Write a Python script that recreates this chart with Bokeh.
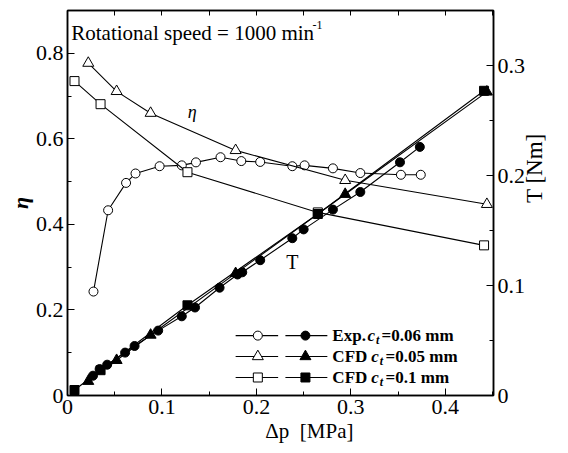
import math
from bokeh.plotting import figure
from bokeh.models import Range1d, LinearAxis, FixedTicker, Label
from bokeh.embed import file_html
from bokeh.resources import INLINE

# ---------------- data ----------------
# Experiment, c_t = 0.06 mm : efficiency
dp_exp_eta = [0.0275, 0.043, 0.062, 0.072, 0.0975, 0.121, 0.136, 0.162, 0.184,
              0.204, 0.238, 0.251, 0.281, 0.310, 0.353, 0.374]
eta_exp = [0.243, 0.433, 0.497, 0.519, 0.536, 0.538, 0.545, 0.557, 0.548,
           0.546, 0.536, 0.538, 0.531, 0.520, 0.516, 0.516]
# Experiment, c_t = 0.06 mm : torque
dp_exp_T = [0.027, 0.034, 0.042, 0.061, 0.071, 0.096, 0.121, 0.135, 0.161,
            0.180, 0.185, 0.204, 0.238, 0.250, 0.281, 0.310, 0.352, 0.373]
T_exp = [0.018, 0.024, 0.028, 0.039, 0.045, 0.059, 0.072, 0.080, 0.098,
         0.110, 0.112, 0.123, 0.143, 0.151, 0.169, 0.185, 0.212, 0.226]
# CFD, c_t = 0.05 mm
dp_cfd05 = [0.022, 0.052, 0.088, 0.178, 0.294, 0.444]
eta_cfd05 = [0.777, 0.711, 0.660, 0.573, 0.503, 0.447]
T_cfd05 = [0.013, 0.032, 0.055, 0.111, 0.183, 0.276]
# CFD, c_t = 0.1 mm
dp_cfd10 = [0.0074, 0.035, 0.127, 0.265, 0.441]
eta_cfd10 = [0.735, 0.681, 0.522, 0.428, 0.351]
T_cfd10 = [0.005, 0.023, 0.082, 0.165, 0.277]

x_major = [0, 0.1, 0.2, 0.3, 0.4]
x_minor = [0.05, 0.15, 0.25, 0.35, 0.45]
eta_major = [0, 0.2, 0.4, 0.6, 0.8]
eta_minor = [0.1, 0.3, 0.5, 0.7]
T_major = [0, 0.1, 0.2, 0.3]
T_minor = [0.05, 0.15, 0.25]

FONT = "Liberation Serif"
NB = "\u00a0"

p = figure(width=568, height=453, output_backend="svg", toolbar_location=None,
           x_range=Range1d(0, 0.451), y_range=Range1d(0, 0.9),
           min_border_left=67, min_border_right=75, min_border_top=10,
           min_border_bottom=58)
p.extra_y_ranges = {"T": Range1d(0, 0.35)}
p.xgrid.visible = False
p.ygrid.visible = False
p.outline_line_color = "black"
p.outline_line_width = 1.5
p.background_fill_color = "white"
p.border_fill_color = "white"


def style_axis(ax):
    ax.axis_line_color = "black"
    ax.axis_line_width = 1.5
    ax.major_tick_in = 7
    ax.major_tick_out = 0
    ax.minor_tick_in = 4
    ax.minor_tick_out = 0
    ax.major_tick_line_color = "black"
    ax.minor_tick_line_color = "black"
    ax.major_label_text_font = FONT
    ax.major_label_text_font_size = "22px"
    ax.major_label_text_color = "black"
    ax.major_label_standoff = 4
    ax.major_label_overrides = {0: "0"}
    ax.axis_label_text_font = FONT
    ax.axis_label_text_color = "black"


p.xaxis.ticker = FixedTicker(ticks=x_major, minor_ticks=x_minor)
style_axis(p.xaxis[0])
p.xaxis.axis_label = NB * 11 + "Δp" + NB * 2 + "[MPa]"
p.xaxis.axis_label_text_font_size = "21px"
p.xaxis.axis_label_text_font_style = "normal"
p.xaxis.axis_label_standoff = 2

p.yaxis.ticker = FixedTicker(ticks=eta_major, minor_ticks=eta_minor)
style_axis(p.yaxis[0])
p.yaxis.axis_label = "η"
p.yaxis.axis_label_text_font_size = "22px"
p.yaxis.axis_label_text_font_style = "bold italic"
p.yaxis.axis_label_standoff = 0

right = LinearAxis(y_range_name="T", ticker=FixedTicker(ticks=T_major, minor_ticks=T_minor))
style_axis(right)
right.axis_label = "T [Nm]"
right.axis_label_text_font_size = "23px"
right.axis_label_text_font_style = "normal"
right.axis_label_standoff = 6
right.axis_label_orientation = math.pi / 2
p.add_layout(right, "right")

# top axis: ticks only (no major ticks -> no labels)
top = LinearAxis(ticker=FixedTicker(ticks=[], minor_ticks=sorted(x_major + x_minor)))
style_axis(top)
top.minor_tick_in = 5
p.add_layout(top, "above")

LW = 1.1
MS = 9
# efficiency curves (open markers)
p.line(dp_exp_eta, eta_exp, line_color="black", line_width=LW)
p.scatter(dp_exp_eta, eta_exp, marker="circle", size=MS, fill_color="white", line_color="black")
p.line(dp_cfd05, eta_cfd05, line_color="black", line_width=LW)
p.scatter(dp_cfd05, eta_cfd05, marker="triangle", size=MS + 2, fill_color="white", line_color="black")
p.line(dp_cfd10, eta_cfd10, line_color="black", line_width=LW)
p.scatter(dp_cfd10, eta_cfd10, marker="square", size=MS, fill_color="white", line_color="black")

# torque curves (filled markers)
p.line(dp_exp_T, T_exp, line_color="black", line_width=LW, y_range_name="T")
p.scatter(dp_exp_T, T_exp, marker="circle", size=MS, fill_color="black", line_color="black", y_range_name="T")
p.line(dp_cfd05, T_cfd05, line_color="black", line_width=LW, y_range_name="T")
p.scatter(dp_cfd05, T_cfd05, marker="triangle", size=MS + 2, fill_color="black", line_color="black", y_range_name="T")
p.line(dp_cfd10, T_cfd10, line_color="black", line_width=LW, y_range_name="T")
p.scatter(dp_cfd10, T_cfd10, marker="square", size=MS, fill_color="black", line_color="black", y_range_name="T")


def lab(x, y, text, size, style="normal", align="left", baseline="alphabetic"):
    p.add_layout(Label(x=x, y=y, text=text, text_font=FONT, text_font_size=size,
                       text_font_style=style, text_align=align, text_baseline=baseline,
                       text_color="black"))


# annotations
lab(0.004, 0.847, "Rotational speed = 1000 min", "21px")
lab(0.2595, 0.866, "-1", "12px")
lab(0.132, 0.662, "η", "18px", style="italic", align="center", baseline="middle")
lab(0.238, 0.311, "T", "20px", align="center", baseline="middle")

# legend
leg_rows = [0.140, 0.0912, 0.0421]
leg_markers = ["circle", "triangle", "square"]
leg_names = ["Exp.", "CFD", "CFD"]
leg_vals = ["=0.06 mm", "=0.05 mm", "=0.1 mm"]
open_x = (0.178, 0.2015, 0.223)
fill_x = (0.2307, 0.2519, 0.2751)
for yv, mk, nm, vl in zip(leg_rows, leg_markers, leg_names, leg_vals):
    sz = MS + 2 if mk == "triangle" else MS
    p.line([open_x[0], open_x[2]], [yv, yv], line_color="black", line_width=LW)
    p.scatter([open_x[1]], [yv], marker=mk, size=sz, fill_color="white", line_color="black")
    p.line([fill_x[0], fill_x[2]], [yv, yv], line_color="black", line_width=LW)
    p.scatter([fill_x[1]], [yv], marker=mk, size=sz, fill_color="black", line_color="black")
    cx = 0.3175 if nm == "Exp." else 0.3217
    lab(0.2804, yv, nm, "17px", style="bold", baseline="middle")
    lab(cx, yv, "c", "17px", style="bold italic", baseline="middle")
    lab(cx + 0.0090, yv - 0.011, "t", "12px", style="bold italic", baseline="middle")
    lab(cx + 0.0150, yv, vl, "17px", style="bold", baseline="middle")

open("out.html", "w").write(file_html(p, INLINE))
